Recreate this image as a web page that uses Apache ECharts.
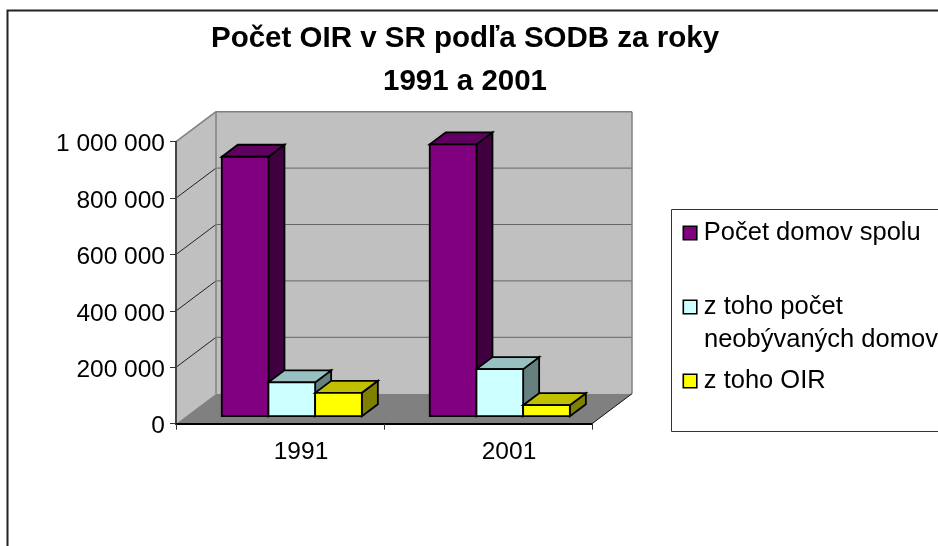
<!DOCTYPE html>
<html>
<head>
<meta charset="utf-8">
<style>html,body{margin:0;padding:0;background:#fff}#c{width:938px;height:546px}</style>
<script src="https://cdn.jsdelivr.net/npm/echarts@6/dist/echarts.min.js"></script>
</head>
<body>
<div id="c"></div>
<script>
var categories = ['1991', '2001'];
var totalHomes = [920000, 964000];
var vacantHomes = [120000, 167000];
var oirHomes = [83000, 39000];
var yTicks = [0, 200000, 400000, 600000, 800000, 1000000];
var seriesNames = ['Počet domov spolu', 'z toho počet neobývaných domov', 'z toho OIR'];

var FONT = '"Liberation Sans", Arial, sans-serif';
var DEPTH_X = 40, DEPTH_Y = -30;          // full floor depth on screen
var NEAR = 0.25, BAR_DEPTH = 0.4;         // bar position within depth
var BAR_SHARE = 0.2245;                   // bar width / category band
var CLUSTER_SHIFT = 1.8;

var palettes = [
  {front: '#800080', top: '#600060', side: '#400040'},
  {front: '#CCFFFF', top: '#99C0C0', side: '#668080'},
  {front: '#FFFF00', top: '#C0C000', side: '#808000'}
];

function poly(points, fill, stroke, lw) {
  return {type: 'polygon', shape: {points: points},
    style: {fill: fill, stroke: stroke || null, lineWidth: lw || 0, lineJoin: 'miter'}};
}
function line(a, b, stroke, lw) {
  return {type: 'line', shape: {x1: a[0], y1: a[1], x2: b[0], y2: b[1]}, style: {stroke: stroke, lineWidth: lw}};
}

function renderWalls(params, api) {
  var band = api.size([1, 0])[0];
  var first = api.coord([0, 0]), last = api.coord([categories.length - 1, 0]);
  var x0 = first[0] - band / 2, x1 = last[0] + band / 2;
  var yBase = first[1], yTop = api.coord([0, yTicks[yTicks.length - 1]])[1];
  var bx0 = x0 + DEPTH_X, bx1 = x1 + DEPTH_X;
  var kids = [
    poly([[bx0, yBase + DEPTH_Y], [bx1, yBase + DEPTH_Y], [bx1, yTop + DEPTH_Y], [bx0, yTop + DEPTH_Y]], '#C0C0C0'),
    poly([[x0, yBase], [bx0, yBase + DEPTH_Y], [bx0, yTop + DEPTH_Y], [x0, yTop]], '#C0C0C0'),
    poly([[x0, yBase], [x1, yBase], [bx1, yBase + DEPTH_Y], [bx0, yBase + DEPTH_Y]], '#808080')
  ];
  yTicks.slice(1, -1).forEach(function (t) {
    var y = api.coord([0, t])[1];
    kids.push(line([bx0, y + DEPTH_Y], [bx1, y + DEPTH_Y], '#666666', 1));
    kids.push(line([x0, y], [bx0, y + DEPTH_Y], '#222222', 1));
  });
  kids.push(line([x0, yTop], [bx0, yTop + DEPTH_Y], '#808080', 1.5));
  kids.push(line([bx0, yTop + DEPTH_Y], [bx1, yTop + DEPTH_Y], '#808080', 1.5));
  kids.push(line([bx0, yTop + DEPTH_Y], [bx0, yBase + DEPTH_Y], '#808080', 1.5));
  kids.push(line([bx1, yTop + DEPTH_Y], [bx1, yBase + DEPTH_Y], '#808080', 1.5));
  kids.push(line([x1, yBase], [bx1, yBase + DEPTH_Y], '#111111', 1));
  return {type: 'group', children: kids};
}

function barRenderer(seriesIndex) {
  return function (params, api) {
    var pal = palettes[seriesIndex];
    var band = api.size([1, 0])[0];
    var w = band * BAR_SHARE;
    var cat = api.value(0), val = api.value(1);
    var base = api.coord([cat, 0]), topP = api.coord([cat, val]);
    var ox = DEPTH_X * NEAR + CLUSTER_SHIFT, oy = DEPTH_Y * NEAR;
    var dx = DEPTH_X * BAR_DEPTH, dy = DEPTH_Y * BAR_DEPTH;
    var xl = base[0] - 1.5 * w + w * seriesIndex + ox, xr = xl + w;
    var yb = base[1] + oy, yt = topP[1] + oy;
    var S = '#000000', L = 1.8;
    return {type: 'group', children: [
      poly([[xr, yb], [xr + dx, yb + dy], [xr + dx, yt + dy], [xr, yt]], pal.side, S, L),
      poly([[xl, yt], [xr, yt], [xr + dx, yt + dy], [xl + dx, yt + dy]], pal.top, S, L),
      poly([[xl, yb], [xr, yb], [xr, yt], [xl, yt]], pal.front, S, L)
    ]};
  };
}

function barSeries(name, values, idx) {
  return {
    name: name, type: 'custom', z: 3 + idx,
    coordinateSystem: 'cartesian2d', clip: false,
    renderItem: barRenderer(idx),
    itemStyle: {color: palettes[idx].front},
    encode: {x: 0, y: 1},
    data: values.map(function (v, i) { return [i, v]; }),
    silent: true
  };
}

function legendFor(name, top) {
  return {
    data: [name], left: 682.5, top: top, orient: 'vertical', padding: 0,
    icon: 'rect', itemWidth: 13.5, itemHeight: 13.5, itemGap: 0,
    selectedMode: false,
    itemStyle: {borderColor: '#000', borderWidth: 1.6},
    formatter: function (n) { return n === seriesNames[1] ? 'z toho počet' : n; },
    textStyle: {fontFamily: FONT, fontSize: 25.5, color: '#000', padding: [2, 0, 0, 2]}
  };
}

var chart = echarts.init(document.getElementById('c'), null, {renderer: 'canvas'});
chart.setOption({
  animation: false,
  backgroundColor: '#fff',
  title: {
    text: 'Počet OIR v SR podľa SODB za roky\n1991 a 2001',
    left: 460, top: 12, textAlign: 'center',
    textStyle: {fontFamily: FONT, fontWeight: 'bold', fontSize: 29.5, lineHeight: 43, color: '#000'}
  },
  grid: {left: 176, top: 141.7, width: 416, height: 282, containLabel: false},
  xAxis: {
    type: 'category', data: categories, boundaryGap: true,
    axisLine: {show: true, lineStyle: {color: '#000', width: 2}},
    axisTick: {show: true, length: 6, lineStyle: {color: '#333', width: 1}},
    axisLabel: {fontFamily: FONT, fontSize: 24.5, color: '#000', margin: 16, padding: [0, 0, 0, 42]},
    z: 2
  },
  yAxis: {
    type: 'value', min: 0, max: 1000000, interval: 200000,
    axisLine: {show: true, lineStyle: {color: '#444', width: 2}},
    axisTick: {show: true, length: 6, lineStyle: {color: '#333', width: 1}},
    splitLine: {show: false},
    axisLabel: {
      fontFamily: FONT, fontSize: 24.5, color: '#000', margin: 11,
      formatter: function (v) { return '{v|' + String(v).replace(/\B(?=(\d{3})+$)/g, ' ') + '}'; },
      rich: {v: {fontFamily: FONT, fontSize: 24.5, color: '#000', padding: [6, 0, 0, 0]}}
    },
    z: 2
  },
  legend: [legendFor(seriesNames[0], 220), legendFor(seriesNames[1], 294), legendFor(seriesNames[2], 368)],
  graphic: [
    {type: 'rect', z: -10, shape: {x: 7.5, y: 10.5, width: 1000, height: 700}, style: {fill: 'none', stroke: '#222', lineWidth: 2}},
    {type: 'rect', z: -10, shape: {x: 671.5, y: 209.5, width: 400, height: 222}, style: {fill: '#fff', stroke: '#333', lineWidth: 1}},
    {type: 'text', z: 10, x: 704, y: 339.5, style: {text: 'neobývaných domov', font: '25.5px ' + FONT, fill: '#000', verticalAlign: 'middle'}}
  ],
  series: [
    {type: 'custom', z: 1, coordinateSystem: 'cartesian2d', clip: false, silent: true,
     renderItem: renderWalls, data: [[0, 0]], encode: {x: 0, y: 1}},
    barSeries(seriesNames[0], totalHomes, 0),
    barSeries(seriesNames[1], vacantHomes, 1),
    barSeries(seriesNames[2], oirHomes, 2)
  ]
});
</script>
</body>
</html>
